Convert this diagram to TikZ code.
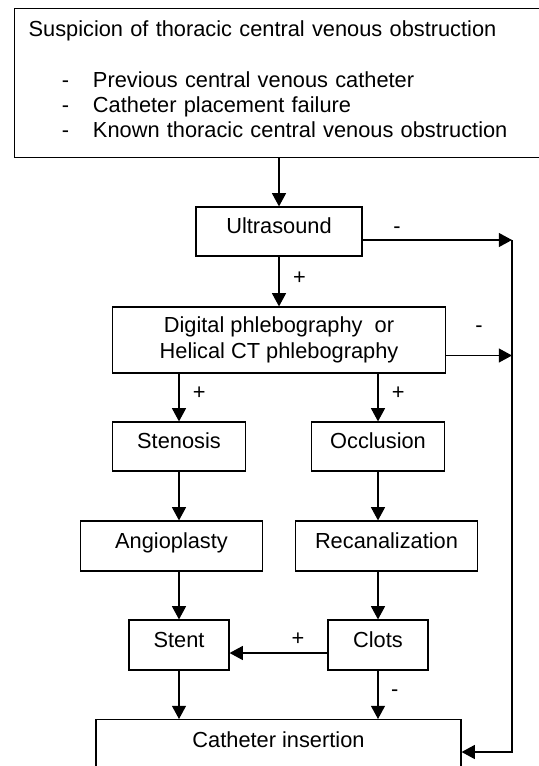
\documentclass[tikz,border=0pt]{standalone}
\usepackage{fontspec}
\setmainfont{Liberation Sans}
\usepackage{tikz}
\usetikzlibrary{positioning}
\usetikzlibrary{arrows.meta}
\newcommand{\dashitem}[1]{\makebox[32.2pt][l]{\hspace*{16.6pt}-}#1}

\begin{document}
\begin{tikzpicture}[x=1pt, y=1pt,
        stage/.style={draw, line width=0.6pt, inner sep=0pt, font=\fontsize{10.9}{12.65}\selectfont},
        onebox/.style={stage, text height=8pt, text depth=5.6pt},
        flow/.style={line width=0.6pt, -{Triangle[length=6.6pt, width=7pt]}},
        signlabel/.style={inner sep=1pt, font=\fontsize{10.9}{12.65}\selectfont}]
        \useasboundingbox (0,0) rectangle (269.5,-383);
        \clip (0,0) rectangle (269.5,-383);

        \node [stage, anchor=north west, text width=270pt, align=left, inner xsep=7pt, minimum height=74.5pt] (Sus) at (7,-4) {Suspicion of thoracic central venous obstruction\\[12.7pt]
          \dashitem{Previous central venous catheter}\\
          \dashitem{Catheter placement failure}\\
          \dashitem{Known thoracic central venous obstruction}\strut};
        \node [onebox, minimum width=83pt, minimum height=24.5pt] (U) at (139.5,-115.75) {Ultrasound};
        \node [stage, on grid, below=54.25pt of U, align=center, minimum width=166.5pt, minimum height=33pt] (D) {Digital phlebography~ or\\Helical CT phlebography};
        \node [onebox, on grid, below left=53.25pt and 50pt of D, minimum width=66.5pt, minimum height=24.5pt] (Sten) {Stenosis};
        \node [onebox, on grid, below right=53.25pt and 49.5pt of D, minimum width=66.5pt, minimum height=24.5pt] (Occ) {Occlusion};
        \node [onebox, on grid, below left=49.75pt and 3.75pt of Sten, minimum width=91pt, minimum height=25pt] (Ang) {Angioplasty};
        \node [onebox, on grid, below right=49.75pt and 4.25pt of Occ, minimum width=91pt, minimum height=25pt] (Rec) {Recanalization};
        \node [onebox, on grid, below=99.25pt of Sten, minimum width=50pt, minimum height=25pt] (Stent) {Stent};
        \node [onebox, on grid, below=99.25pt of Occ, minimum width=50pt, minimum height=25pt] (Clots) {Clots};
        \node [stage, on grid, below right=37pt and 49.75pt of Stent, anchor=north, minimum width=182.5pt, inner ysep=3pt, text height=10.85pt, text depth=30pt] (Cath) {Catheter insertion};

        \coordinate (RT) at (256,-120);
        \coordinate (RB) at (256,-376);
        \coordinate (DR) at ([yshift=-7.75pt]D.east);
        \coordinate (CL) at ([yshift=-4pt]Clots.west);

        \draw [flow] (Sus.south -| U) -- (U);
        \draw [flow] (U) -- (U |- D.north) node [signlabel, pos=0.44, right=5.8pt] {+};
        \draw [flow] (U.east |- RT) -- (RT) node [signlabel, pos=0.23, above=2pt] {-};
        \draw [flow] (DR) -- (DR -| RT) node [signlabel, pos=0.5, above=10pt] {-};
        \draw [flow] (RT) -- (RB) -- (Cath.east |- RB);
        \draw [flow] (D.south -| Sten) -- (Sten) node [signlabel, pos=0.41, right=5.6pt] {+};
        \draw [flow] (D.south -| Occ) -- (Occ) node [signlabel, pos=0.41, right=5.6pt] {+};
        \draw [flow] (Sten) -- (Sten |- Ang.north);
        \draw [flow] (Occ) -- (Occ |- Rec.north);
        \draw [flow] (Ang.south -| Sten) -- (Stent);
        \draw [flow] (Rec.south -| Occ) -- (Clots);
        \draw [flow] (CL) -- (CL -| Stent.east) node [signlabel, pos=0.3, above=2.4pt] {+};
        \draw [flow] (Stent) -- (Stent |- Cath.north);
        \draw [flow] (Clots) -- (Clots |- Cath.north) node [signlabel, pos=0.46, right=5.2pt] {-};
      \end{tikzpicture}
\end{document}
